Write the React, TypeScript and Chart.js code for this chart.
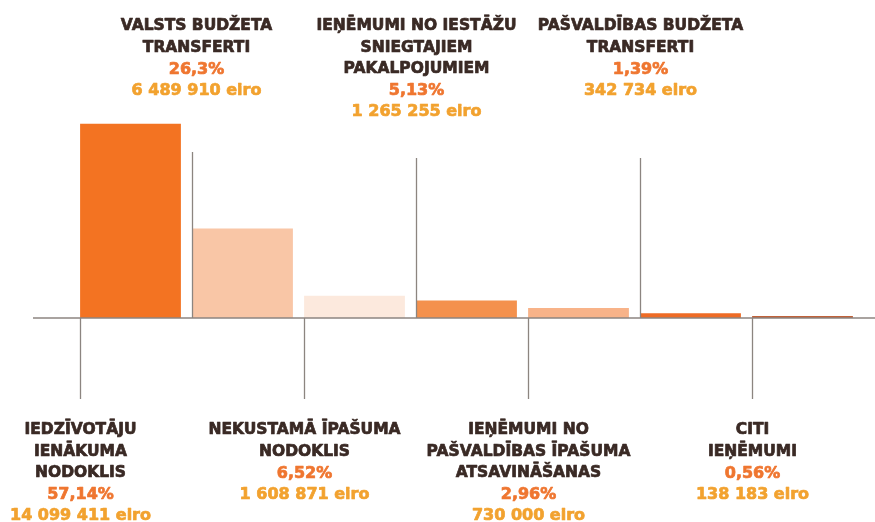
import React, { useEffect, useRef } from "react";
import { Chart, registerables } from "chart.js";

Chart.register(...registerables);

const categoryNames: string[][] = [
  ["IEDZĪVOTĀJU", "IENĀKUMA", "NODOKLIS"],
  ["VALSTS BUDŽETA", "TRANSFERTI"],
  ["NEKUSTAMĀ ĪPAŠUMA", "NODOKLIS"],
  ["IEŅĒMUMI NO IESTĀŽU", "SNIEGTAJIEM", "PAKALPOJUMIEM"],
  ["IEŅĒMUMI NO", "PAŠVALDĪBAS ĪPAŠUMA", "ATSAVINĀŠANAS"],
  ["PAŠVALDĪBAS BUDŽETA", "TRANSFERTI"],
  ["CITI", "IEŅĒMUMI"],
];
const shares: number[] = [57.14, 26.3, 6.52, 5.13, 2.96, 1.39, 0.56];
const shareLabels: string[] = ["57,14%", "26,3%", "6,52%", "5,13%", "2,96%", "1,39%", "0,56%"];
const amountLabels: string[] = [
  "14 099 411 eiro",
  "6 489 910 eiro",
  "1 608 871 eiro",
  "1 265 255 eiro",
  "730 000 eiro",
  "342 734 eiro",
  "138 183 eiro",
];
const barColors: string[] = ["#F37322", "#F9C6A6", "#FCE9DD", "#F4914D", "#F8B389", "#EE6B25", "#C0623A"];

const NAME_COLOR = "#3A2A25";
const SHARE_COLOR = "#EF7630";
const AMOUNT_COLOR = "#F2A22F";
const LINE_COLOR = "#8C8580";

function heavyText(ctx: CanvasRenderingContext2D, text: string, x: number, y: number, color: string) {
  ctx.fillStyle = color;
  ctx.strokeStyle = color;
  ctx.lineWidth = 0.7;
  ctx.lineJoin = "round";
  ctx.fillText(text, x, y);
  ctx.strokeText(text, x, y);
}

const labelPlugin = {
  id: "labelPlugin",
  afterDatasetsDraw(chart: any) {
    const ctx = chart.ctx as CanvasRenderingContext2D;
    const meta = chart.getDatasetMeta(0);
    const baseY = chart.scales.y.getPixelForValue(0);
    ctx.save();
    // baseline
    ctx.strokeStyle = LINE_COLOR;
    ctx.lineWidth = 1.5;
    ctx.beginPath();
    ctx.moveTo(33, baseY);
    ctx.lineTo(chart.width, baseY);
    ctx.stroke();

    meta.data.forEach((bar: any, i: number) => {
      const x = Math.round(bar.x - bar.width / 2) + 0.5;
      const top = i % 2 === 1;
      ctx.strokeStyle = LINE_COLOR;
      ctx.lineWidth = 1.3;
      ctx.beginPath();
      if (top) {
        ctx.moveTo(x, i === 1 ? 152 : 158);
        ctx.lineTo(x, baseY);
      } else {
        ctx.moveTo(x, baseY);
        ctx.lineTo(x, 399);
      }
      ctx.stroke();

      const cx = x + (i === 1 ? 4 : 0);
      let y = top ? 30 : 434;
      ctx.textAlign = "center";
      ctx.textBaseline = "alphabetic";
      ctx.font = "bold 15.5px 'DejaVu Sans'";
      const names = categoryNames[i];
      names.forEach((n, k) => {
        heavyText(ctx, n, cx, y + k * 21.5, NAME_COLOR);
      });
      y += (names.length - 1) * 21.5 + 22;
      ctx.font = "bold 16px 'DejaVu Sans'";
      heavyText(ctx, shareLabels[i], cx, y, SHARE_COLOR);
      y += 21;
      heavyText(ctx, amountLabels[i], cx, y, AMOUNT_COLOR);
    });
    ctx.restore();
  },
};

export default function App() {
  const ref = useRef<HTMLCanvasElement | null>(null);
  useEffect(() => {
    if (!ref.current) return;
    const chart = new Chart(ref.current, {
      type: "bar",
      data: {
        labels: categoryNames.map((n) => n.join(" ")),
        datasets: [
          {
            data: shares,
            backgroundColor: barColors,
            borderWidth: 0,
            categoryPercentage: 0.9,
            barPercentage: 1,
          },
        ],
      },
      options: {
        responsive: false,
        animation: false,
        layout: { padding: { top: 114, bottom: 204, left: 74.5, right: 16.5 } },
        plugins: { legend: { display: false }, tooltip: { enabled: false } },
        scales: {
          x: { display: false },
          y: { display: false, min: 0, max: 60 },
        },
      },
      plugins: [labelPlugin],
    });
    return () => chart.destroy();
  }, []);
  return (
    <div style={{ position: "absolute", left: 0, top: 0, width: 875, height: 522, background: "#fff" }}>
      <canvas ref={ref} width={875} height={522} style={{ display: "block" }} />
    </div>
  );
}
